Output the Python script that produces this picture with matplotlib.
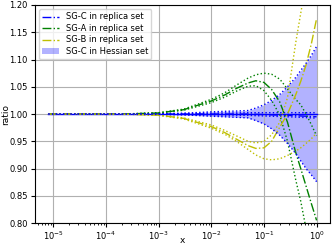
import numpy as np
import matplotlib.pyplot as plt

# x grid (momentum fraction)
x = [8e-6, 1e-5, 3e-5, 1e-4, 3e-4, 1e-3, 3e-3, 1e-2, 0.018, 0.03, 0.05,
     0.07, 0.1, 0.14, 0.2, 0.28, 0.4, 0.5, 0.63, 0.8, 1.0]

# SG-C replica set: central and spread
sgc_mid = [1.0, 1.0, 1.0, 1.0, 1.0, 1.0, 1.0, 1.0, 1.0, 1.0, 1.0,
           0.9995, 0.999, 0.9985, 0.998, 0.9975, 0.997, 0.9965, 0.996, 0.9955, 0.995]
sgc_up = [1.0, 1.0, 1.0, 1.0, 1.0, 1.0005, 1.001, 1.0015, 1.002, 1.002, 1.0025,
          1.0025, 1.0025, 1.0025, 1.0025, 1.0025, 1.0025, 1.0025, 1.0025, 1.0025, 1.0025]
sgc_lo = [1.0, 1.0, 1.0, 1.0, 1.0, 0.9995, 0.999, 0.9985, 0.998, 0.998, 0.9975,
          0.997, 0.9965, 0.996, 0.9955, 0.995, 0.9945, 0.994, 0.9935, 0.993, 0.9925]

# SG-A replica set
sga_mid = [1.0, 1.0, 1.0, 1.0, 1.0005, 1.002, 1.008, 1.024, 1.035, 1.047, 1.057,
           1.061, 1.058, 1.045, 1.022, 0.985, 0.93, 0.90, 0.868, 0.835, 0.805]
sga_up = [1.0, 1.0, 1.0, 1.0, 1.0006, 1.0025, 1.009, 1.027, 1.039, 1.053, 1.066,
          1.072, 1.075, 1.073, 1.064, 1.046, 1.027, 1.017, 1.0, 0.98, 0.96]
sga_lo = [1.0, 1.0, 1.0, 1.0, 1.0004, 1.0018, 1.007, 1.021, 1.031, 1.042, 1.051,
          1.052, 1.043, 1.025, 0.998, 0.95, 0.88, 0.84, 0.79, 0.74, 0.70]

# SG-B replica set
sgb_mid = [1.0, 1.0, 1.0, 1.0, 0.9995, 0.998, 0.992, 0.977, 0.966, 0.954, 0.942,
           0.937, 0.938, 0.95, 0.976, 1.0, 1.035, 1.06, 1.09, 1.13, 1.175]
sgb_up = [1.0, 1.0, 1.0, 1.0, 0.9996, 0.9982, 0.993, 0.98, 0.97, 0.96, 0.95,
          0.947, 0.95, 0.962, 0.985, 1.03, 1.13, 1.185, 1.24, 1.30, 1.36]
sgb_lo = [1.0, 1.0, 1.0, 1.0, 0.9994, 0.9975, 0.991, 0.974, 0.963, 0.95, 0.935,
          0.925, 0.918, 0.916, 0.918, 0.924, 0.932, 0.938, 0.946, 0.955, 0.965]

# SG-C Hessian band
hess_up = [1.0, 1.0, 1.0, 1.0, 1.0, 1.0005, 1.0015, 1.004, 1.005, 1.0055, 1.0065,
           1.011, 1.017, 1.025, 1.036, 1.05, 1.067, 1.08, 1.093, 1.108, 1.124]
hess_lo = [1.0, 1.0, 1.0, 1.0, 1.0, 0.9995, 0.9985, 0.996, 0.995, 0.994, 0.993,
           0.988, 0.982, 0.973, 0.961, 0.946, 0.928, 0.914, 0.9, 0.888, 0.876]

fig, ax = plt.subplots(figsize=(3.32, 2.49), dpi=100)
fig.subplots_adjust(left=0.105, right=0.994, top=0.98, bottom=0.104)

ax.plot(x, np.ones(len(x)), color="b", lw=1.0)
ax.plot(x, sgc_mid, color="b", ls="-.", lw=1.0, label="SG-C in replica set")
ax.plot(x, sgc_up, color="b", ls=":", lw=1.0)
ax.plot(x, sgc_lo, color="b", ls=":", lw=1.0)

ax.plot(x, sga_mid, color="g", ls="-.", lw=1.0, label="SG-A in replica set")
ax.plot(x, sga_up, color="g", ls=":", lw=1.0)
ax.plot(x, sga_lo, color="g", ls=":", lw=1.0)

ax.plot(x, sgb_mid, color="y", ls="-.", lw=1.0, label="SG-B in replica set")
ax.plot(x, sgb_up, color="y", ls=":", lw=1.0)
ax.plot(x, sgb_lo, color="y", ls=":", lw=1.0)

ax.fill_between(x, hess_lo, hess_up, color="b", alpha=0.3, lw=0,
                label="SG-C in Hessian set")
ax.plot(x, hess_up, color="b", ls=":", lw=1.0)
ax.plot(x, hess_lo, color="b", ls=":", lw=1.0)

ax.set_xscale("log")
ax.set_ylim(0.8, 1.2)
ax.set_yticks([0.80, 0.85, 0.90, 0.95, 1.00, 1.05, 1.10, 1.15, 1.20])
ax.grid(True, color="#b0b0b0", lw=0.8)
ax.tick_params(labelsize=6, length=3, pad=2)
ax.tick_params(which="minor", length=1.5)
ax.set_xlabel("x", fontsize=6.5)
ax.set_ylabel("ratio", fontsize=6.5)
ax.xaxis.set_label_coords(0.5, -0.06)
ax.yaxis.set_label_coords(-0.085, 0.5)
ax.legend(loc="upper left", fontsize=6, framealpha=0.8, borderaxespad=0.5,
          handlelength=2.0, labelspacing=0.3)

plt.savefig("out.png", dpi=100)
